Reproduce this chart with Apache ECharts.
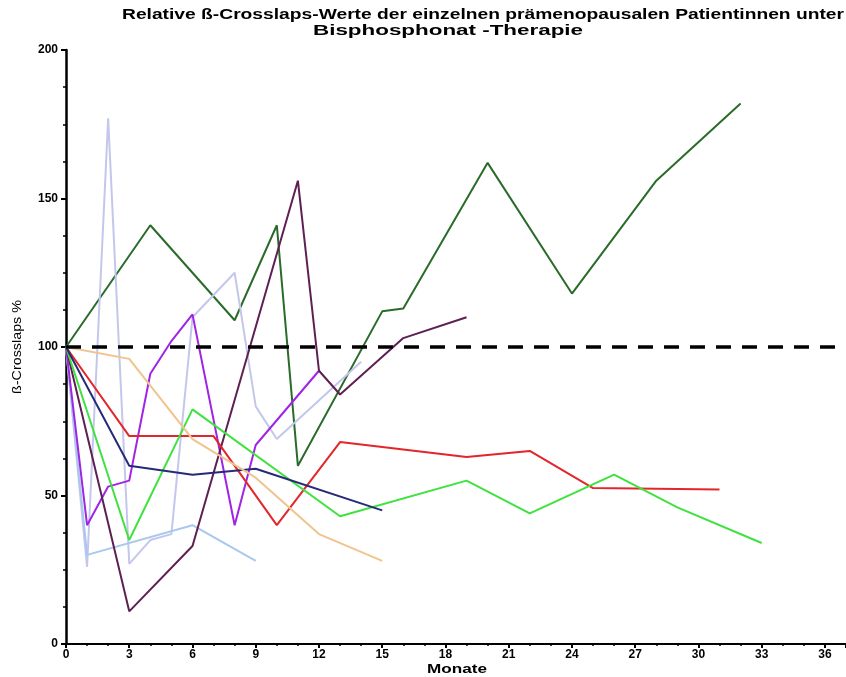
<!DOCTYPE html>
<html>
<head>
<meta charset="utf-8">
<script src="https://cdn.jsdelivr.net/npm/echarts@6/dist/echarts.min.js"></script>
<style>
  html, body { margin: 0; padding: 0; background: #fff; }
  #chart { width: 846px; height: 677px; }
</style>
</head>
<body>
<div id="chart"></div>
<script>
// Titles and axis captions
const titleLine1 = 'Relative ß-Crosslaps-Werte der einzelnen prämenopausalen Patientinnen unter';
const titleLine2 = 'Bisphosphonat -Therapie';
const yAxisTitle = 'ß-Crosslaps %';
const xAxisTitle = 'Monate';

// Axis ranges and tick spacing
const xMin = 0, xMax = 37, xStep = 3;
const yMin = 0, yMax = 200, yStep = 50;
const baselineValue = 100;

// Patient courses: months since start and relative values (%)
const p1Months = [0, 4, 8, 10, 11, 15, 16, 20, 24, 28, 32];
const p1Values = [100, 141, 109, 141, 60, 112, 113, 162, 118, 156, 182];

const p2Months = [0, 1, 2, 3, 4, 5, 6, 8, 9, 10, 14];
const p2Values = [100, 26, 177, 27, 35, 37, 110, 125, 80, 69, 95];

const p3Months = [0, 1, 6, 9];
const p3Values = [100, 30, 40, 28];

const p4Months = [0, 1, 2, 3, 4, 5, 6, 8, 9, 12];
const p4Values = [100, 40, 53, 55, 91, 102, 111, 40, 67, 92];

const p5Months = [0, 3, 6, 11, 12, 13, 16, 19];
const p5Values = [100, 11, 33, 156, 92, 84, 103, 110];

const p6Months = [0, 3, 7, 10, 13, 19, 22, 25, 31];
const p6Values = [100, 70, 70, 40, 68, 63, 65, 52.5, 52];

const p7Months = [0, 3, 6, 13, 19, 22, 26, 29, 33];
const p7Values = [100, 35, 79, 43, 55, 44, 57, 46, 34];

const p8Months = [0, 3, 6, 9, 15];
const p8Values = [100, 60, 57, 59, 45];

const p9Months = [0, 3, 6, 9, 12, 15];
const p9Values = [100, 96, 69, 56, 37, 28];

const patients = [
  { name: 'Patientin 1', months: p1Months, values: p1Values, color: '#2a6b2a' },
  { name: 'Patientin 2', months: p2Months, values: p2Values, color: '#c4c7ec' },
  { name: 'Patientin 3', months: p3Months, values: p3Values, color: '#a9c8ee' },
  { name: 'Patientin 4', months: p4Months, values: p4Values, color: '#a024e4' },
  { name: 'Patientin 5', months: p5Months, values: p5Values, color: '#5e1f52' },
  { name: 'Patientin 6', months: p6Months, values: p6Values, color: '#e2262a' },
  { name: 'Patientin 7', months: p7Months, values: p7Values, color: '#3fe23f' },
  { name: 'Patientin 8', months: p8Months, values: p8Values, color: '#262a78' },
  { name: 'Patientin 9', months: p9Months, values: p9Values, color: '#f0c48e' }
];

const FONT = '"Liberation Sans", Arial, sans-serif';

function measure(text, font) {
  const ctx = document.createElement('canvas').getContext('2d');
  ctx.font = font;
  return ctx.measureText(text).width;
}

const titleFont = 'bold 15px ' + FONT;
const yNameFont = '12px ' + FONT;
const xNameFont = 'bold 13px ' + FONT;
const t1Scale = 722 / measure(titleLine1, titleFont);
const t2Scale = 270 / measure(titleLine2, titleFont);
const yNameScale = 94 / measure(yAxisTitle, yNameFont);
const xNameScale = 60 / measure(xAxisTitle, xNameFont);

const lineSeries = patients.map(p => ({
  name: p.name,
  type: 'line',
  data: p.months.map((m, i) => [m, p.values[i]]),
  showSymbol: false,
  symbol: 'none',
  lineStyle: { color: p.color, width: 2 },
  itemStyle: { color: p.color },
  animation: false,
  z: 2
}));

lineSeries.push({
  name: 'Ausgangswert',
  type: 'line',
  data: [[xMin, baselineValue], [xMax, baselineValue]],
  symbol: 'none',
  lineStyle: { color: '#000', width: 3.5, type: [15, 11] },
  animation: false,
  z: 5
});

const chart = echarts.init(document.getElementById('chart'), null, { renderer: 'canvas' });
chart.setOption({
  backgroundColor: '#fff',
  animation: false,
  grid: { left: 66, right: 0, top: 50, bottom: 33, containLabel: false },
  xAxis: {
    type: 'value',
    min: xMin, max: xMax, interval: xStep,
    axisLine: { show: true, onZero: false, lineStyle: { color: '#000', width: 2 } },
    axisTick: { show: true, length: 4, lineStyle: { color: '#000', width: 2 } },
    minorTick: { show: true, splitNumber: 3, length: 2, lineStyle: { color: '#000', width: 1.5 } },
    axisLabel: { showMaxLabel: false, color: '#000', fontWeight: 'bold', fontSize: 12, fontFamily: FONT, margin: 5 },
    splitLine: { show: false }
  },
  yAxis: {
    type: 'value',
    min: yMin, max: yMax, interval: yStep,
    axisLine: { show: true, onZero: false, lineStyle: { color: '#000', width: 2.5 } },
    axisTick: { show: true, length: 5, lineStyle: { color: '#000', width: 2 } },
    minorTick: { show: true, splitNumber: 4, length: 3, lineStyle: { color: '#000', width: 1.5 } },
    axisLabel: { color: '#000', fontWeight: 'bold', fontSize: 12, fontFamily: FONT, margin: 8 },
    splitLine: { show: false }
  },
  graphic: [
    {
      type: 'text', x: 122, y: 15, scaleX: t1Scale, silent: true,
      style: { text: titleLine1, font: titleFont, fill: '#000', align: 'left', verticalAlign: 'middle', textAlign: 'left', textVerticalAlign: 'middle' }
    },
    {
      type: 'text', x: 448, y: 31, scaleX: t2Scale, silent: true,
      style: { text: titleLine2, font: titleFont, fill: '#000', align: 'center', verticalAlign: 'middle', textAlign: 'center', textVerticalAlign: 'middle' }
    },
    {
      type: 'text', x: 18, y: 347, rotation: Math.PI / 2, scaleX: yNameScale, silent: true,
      style: { text: yAxisTitle, font: yNameFont, fill: '#000', align: 'center', verticalAlign: 'middle', textAlign: 'center', textVerticalAlign: 'middle' }
    },
    {
      type: 'text', x: 457, y: 669, scaleX: xNameScale, silent: true,
      style: { text: xAxisTitle, font: xNameFont, fill: '#000', align: 'center', verticalAlign: 'middle', textAlign: 'center', textVerticalAlign: 'middle' }
    }
  ],
  series: lineSeries
});
</script>
</body>
</html>
